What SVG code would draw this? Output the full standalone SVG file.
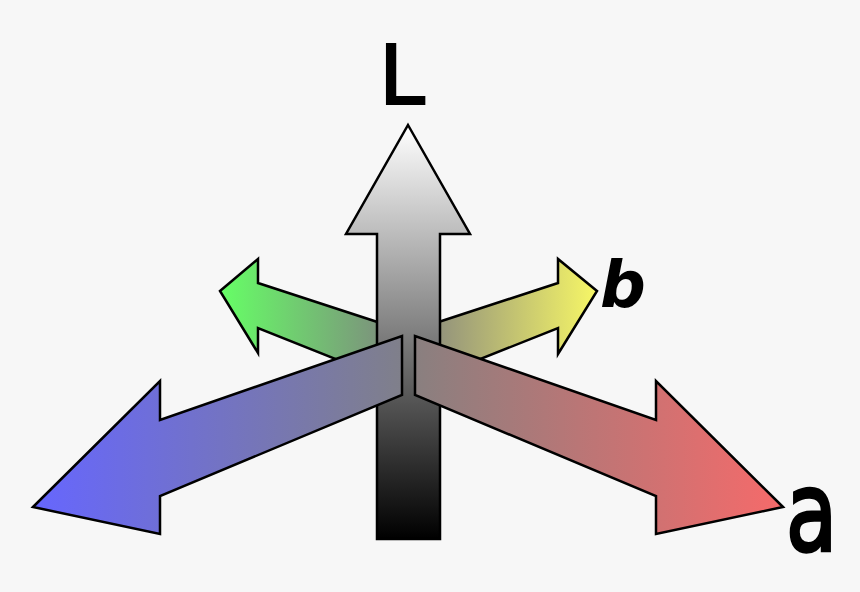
<svg xmlns="http://www.w3.org/2000/svg" width="860" height="592" viewBox="0 0 860 592">
  <style>
    .arrow { stroke: #000; stroke-width: 2.5; stroke-linejoin: miter; }
    .lbl { fill: #000; font-family: "DejaVu Sans", "Liberation Sans", sans-serif; }
  </style>
  <defs>
    <linearGradient id="gL" gradientUnits="userSpaceOnUse" x1="0" y1="125" x2="0" y2="539">
      <stop offset="0" stop-color="#ffffff"/>
      <stop offset="1" stop-color="#000000"/>
    </linearGradient>
    <linearGradient id="gGreen" gradientUnits="userSpaceOnUse" x1="220" y1="0" x2="408" y2="0">
      <stop offset="0" stop-color="#66ff66"/>
      <stop offset="1" stop-color="#808080"/>
    </linearGradient>
    <linearGradient id="gYellow" gradientUnits="userSpaceOnUse" x1="408" y1="0" x2="597" y2="0">
      <stop offset="0" stop-color="#808080"/>
      <stop offset="1" stop-color="#f7f766"/>
    </linearGradient>
    <linearGradient id="gBlue" gradientUnits="userSpaceOnUse" x1="33" y1="0" x2="408" y2="0">
      <stop offset="0" stop-color="#6666ff"/>
      <stop offset="1" stop-color="#808088"/>
    </linearGradient>
    <linearGradient id="gRed" gradientUnits="userSpaceOnUse" x1="408" y1="0" x2="783" y2="0">
      <stop offset="0" stop-color="#878080"/>
      <stop offset="1" stop-color="#f66a6a"/>
    </linearGradient>
  </defs>
  <rect x="0" y="0" width="860" height="592" fill="#f7f7f7"/>
  <g id="connectors"></g>
  <g id="axis-b-neg">
    <polygon class="arrow" fill="url(#gGreen)" points="220,291 258,259 258,283 408,332 408,388 258,328 258,353"/>
  </g>
  <g id="axis-b-pos">
    <polygon class="arrow" fill="url(#gYellow)" points="597,291 558,259 558,283 408,332 408,388 558,328 558,354"/>
    <text class="lbl" x="600" y="307" font-size="64" font-weight="bold" font-style="italic">b</text>
  </g>
  <g id="axis-L">
    <polygon class="arrow" fill="url(#gL)" points="408,125 470,234 440,234 440,539 377,539 377,234 346,234"/>
    <text class="lbl" x="379" y="104" font-size="82" stroke="#000" stroke-width="2.2">L</text>
  </g>
  <g id="axis-a-neg">
    <polygon class="arrow" fill="url(#gBlue)" points="33,507 160,381 160,420 402,336 402,395 160,496 160,534"/>
  </g>
  <g id="axis-a-pos">
    <polygon class="arrow" fill="url(#gRed)" points="783,507 656,381 656,420 415,336 415,395 656,496 656,534"/>
    <text class="lbl" transform="translate(786,550) scale(0.76,1)" x="0" y="0" font-size="110" stroke="#000" stroke-width="3.5">a</text>
  </g>
</svg>
